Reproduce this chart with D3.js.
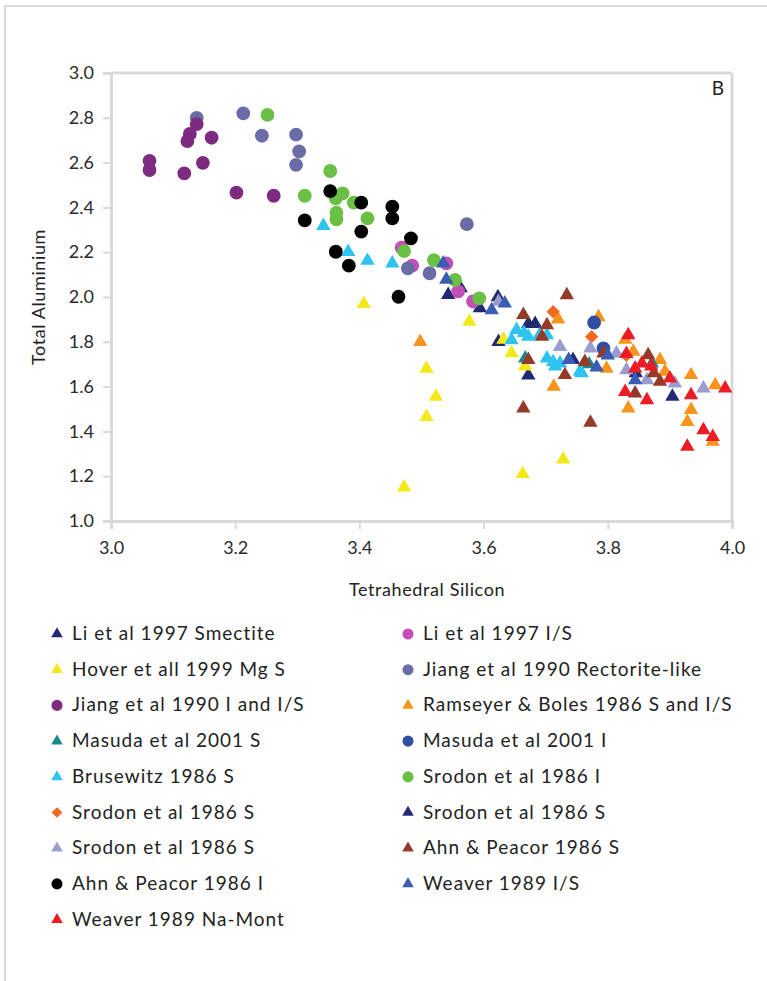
<!DOCTYPE html>
<html><head><meta charset="utf-8">
<script src="https://cdn.jsdelivr.net/npm/d3@7"></script>
<style>body{margin:0;background:#fff}svg{display:block}text{font-family:Lato,"Liberation Sans",sans-serif}</style>
</head><body><svg id="c" width="767" height="981"></svg>
<script>
const xTicks = [3.0, 3.2, 3.4, 3.6, 3.8, 4.0];
const yTicks = [1.0, 1.2, 1.4, 1.6, 1.8, 2.0, 2.2, 2.4, 2.6, 2.8, 3.0];
const xTitle = "Tetrahedral Silicon";
const yTitle = "Total Aluminium";
const panelLabel = "B";

const seriesNames = ["Li et al 1997 Smectite","Li et al 1997 I/S","Hover et all 1999 Mg S","Jiang et al 1990 Rectorite-like","Jiang et al 1990 I and I/S","Ramseyer & Boles 1986 S and I/S","Masuda et al 2001 S","Masuda et al 2001 I","Brusewitz 1986 S","Srodon et al 1986 I","Srodon et al 1986 S","Srodon et al 1986 S","Srodon et al 1986 S","Ahn & Peacor 1986 S","Ahn & Peacor 1986 I","Weaver 1989 I/S","Weaver 1989 Na-Mont"];
const seriesShapes = ["triangle","circle","triangle","circle","circle","triangle","triangle","circle","triangle","circle","diamond","triangle","triangle","triangle","circle","triangle","triangle"];
const seriesColors = ["#1f2a70","#c24fb6","#f4e918","#6b6ba8","#7d2a80","#f7941d","#16898a","#2f4ea2","#2ec3f0","#6abf45","#f26a21","#232b78","#9c9bd0","#943a28","#000000","#3b5cb3","#ec1c24"];

// x = tetrahedral Si, y = total Al
const liSmectite = [[3.543,2.01],[3.563,2.04],[3.594,1.95],[3.623,2.00],[3.624,1.80],[3.672,1.65],[3.672,1.88],[3.683,1.88]];
const liIS = [[3.468,2.22],[3.485,2.14],[3.54,2.15],[3.559,2.025],[3.583,1.98]];
const hover = [[3.407,1.97],[3.577,1.89],[3.508,1.68],[3.523,1.555],[3.508,1.465],[3.472,1.15],[3.663,1.21],[3.728,1.275],[3.632,1.81],[3.645,1.75],[3.667,1.69]];
const jiangRect = [[3.138,2.80],[3.213,2.82],[3.243,2.72],[3.298,2.725],[3.303,2.65],[3.298,2.59],[3.573,2.325],[3.478,2.128],[3.513,2.106]];
const jiangIIS = [[3.138,2.772],[3.127,2.728],[3.123,2.696],[3.162,2.711],[3.062,2.608],[3.062,2.567],[3.148,2.599],[3.118,2.552],[3.202,2.466],[3.262,2.452]];
const ramseyer = [[3.498,1.80],[3.713,1.60],[3.72,1.90],[3.785,1.91],[3.828,1.81],[3.841,1.756],[3.884,1.72],[3.892,1.667],[3.833,1.503],[3.934,1.652],[3.973,1.607],[3.934,1.496],[3.928,1.443],[3.969,1.354],[3.798,1.68]];
const masudaS = [[3.667,1.726],[3.871,1.704],[3.77,1.70]];
const masudaI = [[3.778,1.886],[3.793,1.771]];
const brusewitz = [[3.342,2.318],[3.382,2.202],[3.413,2.162],[3.453,2.15],[3.645,1.808],[3.653,1.853],[3.672,1.823],[3.665,1.84],[3.69,1.83],[3.702,1.83],[3.702,1.726],[3.712,1.71],[3.723,1.704],[3.715,1.69],[3.755,1.667],[3.758,1.66]];
const srodonI = [[3.252,2.813],[3.312,2.452],[3.353,2.5625],[3.373,2.463],[3.362,2.44],[3.391,2.421],[3.363,2.376],[3.363,2.347],[3.413,2.351],[3.472,2.205],[3.52,2.165],[3.554,2.076],[3.593,1.994]];
const srodonSd = [[3.712,1.934],[3.774,1.823],[3.83,1.74]];
const srodonSn = [[3.744,1.719],[3.904,1.555],[3.845,1.66]];
const srodonSl = [[3.624,1.979],[3.723,1.778],[3.772,1.771],[3.814,1.749],[3.83,1.674],[3.863,1.629],[3.908,1.615],[3.954,1.592]];
const ahnS = [[3.734,2.009],[3.664,1.92],[3.702,1.875],[3.694,1.823],[3.672,1.719],[3.731,1.652],[3.763,1.711],[3.664,1.503],[3.772,1.439],[3.793,1.749],[3.865,1.741],[3.874,1.66],[3.884,1.622],[3.844,1.57]];
const ahnI = [[3.312,2.342],[3.353,2.473],[3.403,2.421],[3.453,2.403],[3.453,2.351],[3.403,2.292],[3.483,2.262],[3.362,2.202],[3.383,2.14],[3.463,2.001]];
const weaverIS = [[3.535,2.15],[3.54,2.078],[3.613,1.942],[3.634,1.972],[3.737,1.72],[3.782,1.686],[3.844,1.629],[3.80,1.74]];
const weaverNa = [[3.833,1.83],[3.83,1.746],[3.844,1.682],[3.855,1.704],[3.90,1.637],[3.828,1.577],[3.863,1.54],[3.934,1.5625],[3.989,1.592],[3.928,1.332],[3.954,1.406],[3.969,1.376],[3.87,1.69]];

const seriesData = [liSmectite,liIS,hover,jiangRect,jiangIIS,ramseyer,masudaS,masudaI,brusewitz,srodonI,srodonSd,srodonSn,srodonSl,ahnS,ahnI,weaverIS,weaverNa];

const svg = d3.select("#c");
svg.append("rect").attr("x",5).attr("y",6).attr("width",800).attr("height",1000)
  .attr("fill","none").attr("stroke","#d9d9d9").attr("stroke-width",2);

const L=111, R=732, T=73, B=521;
const x = d3.scaleLinear().domain([3,4]).range([L,R]);
const y = d3.scaleLinear().domain([1,3]).range([B,T]);

svg.append("line").attr("x1",L).attr("x2",R).attr("y1",T).attr("y2",T).attr("stroke","#d9d9d9").attr("stroke-width",3);
svg.append("line").attr("x1",R).attr("x2",R).attr("y1",T).attr("y2",B).attr("stroke","#d9d9d9").attr("stroke-width",3);

const yAxis = svg.append("g").attr("transform",`translate(${L},0)`)
  .call(d3.axisLeft(y).tickValues(yTicks).tickFormat(d3.format(".1f")).tickSize(8).tickPadding(9));
const xAxis = svg.append("g").attr("transform",`translate(0,${B})`)
  .call(d3.axisBottom(x).tickValues(xTicks).tickFormat(d3.format(".1f")).tickSize(8).tickPadding(12));
[yAxis,xAxis].forEach(a=>{
  a.selectAll("path.domain").attr("stroke","#d9d9d9").attr("stroke-width",3);
  a.selectAll(".tick line").attr("stroke","#d9d9d9").attr("stroke-width",2);
  a.selectAll(".tick text").attr("fill","#2a2a2a").style("font-size","18px").style("font-family","Lato,'Liberation Sans',sans-serif");
});

svg.append("text").attr("x",427).attr("y",596).attr("text-anchor","middle")
  .style("font-size","18px").style("letter-spacing","0.6px").attr("fill","#222").text(xTitle);
svg.append("text").attr("transform",`translate(45,${(T+B)/2}) rotate(-90)`).attr("text-anchor","middle")
  .style("font-size","18px").style("letter-spacing","0.6px").attr("fill","#222").text(yTitle);
svg.append("text").attr("x",718).attr("y",95).attr("text-anchor","middle")
  .style("font-size","19px").attr("fill","#222").text(panelLabel);

function sym(shape, scale){
  const s = scale||1;
  if(shape==="circle") return d3.symbol().type(d3.symbolCircle).size(150*s*s)();
  if(shape==="triangle") return d3.symbol().type(d3.symbolTriangle).size(90*s*s)();
  return d3.symbol().type(d3.symbolSquare).size(90*s*s)();
}

const pts = svg.append("g");
seriesData.forEach((data,i)=>{
  pts.selectAll(null).data(data).enter().append("path")
    .attr("d",sym(seriesShapes[i]))
    .attr("transform",d=>`translate(${x(d[0])},${y(d[1])})`+(seriesShapes[i]==="diamond"?" rotate(45)":""))
    .attr("fill",seriesColors[i]);
});

const leg = svg.append("g");
seriesNames.forEach((name,i)=>{
  const col = i%2, row = Math.floor(i/2);
  const lx = col===0?57:408, ly = 634+row*35.7;
  leg.append("path").attr("d",sym(seriesShapes[i],0.8))
    .attr("transform",`translate(${lx},${ly})`+(seriesShapes[i]==="diamond"?" rotate(45)":""))
    .attr("fill",seriesColors[i]);
  leg.append("text").attr("x",lx+15).attr("y",ly+6).style("font-size","19px").style("letter-spacing","1px")
    .attr("fill","#222").text(name);
});
</script></body></html>
